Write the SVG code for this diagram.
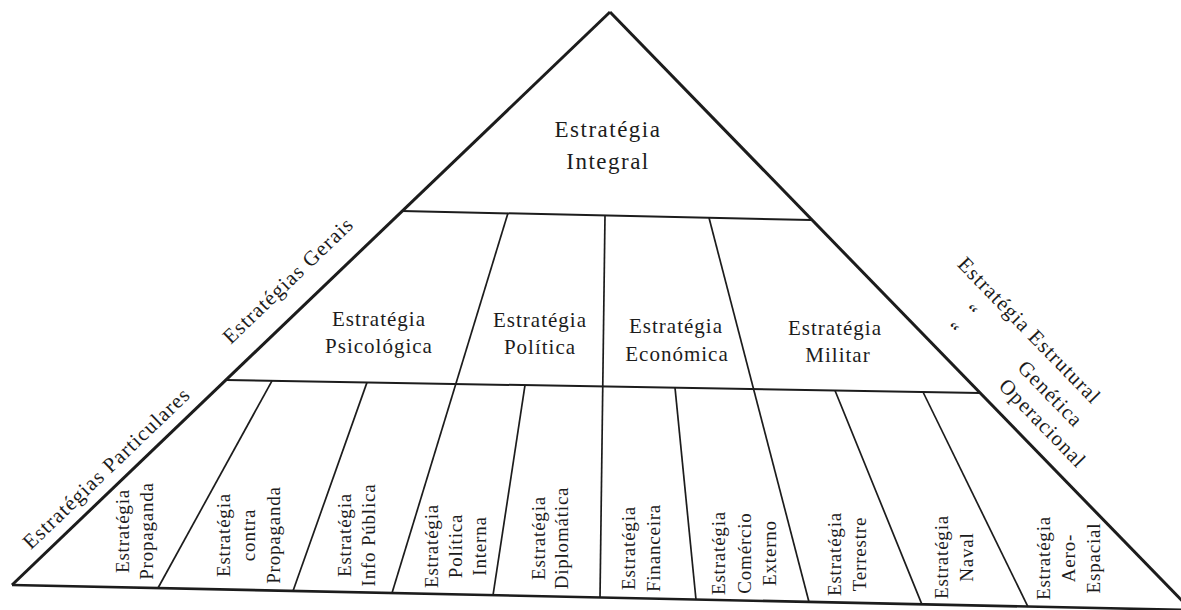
<svg xmlns="http://www.w3.org/2000/svg" width="1181" height="610" viewBox="0 0 1181 610">
<style>
  .edge{fill:none;stroke:#1c1c1c;stroke-width:3;stroke-linejoin:miter}
  .base{fill:none;stroke:#1c1c1c;stroke-width:2.6}
  .hline{fill:none;stroke:#1c1c1c;stroke-width:2}
  .div{fill:none;stroke:#1c1c1c;stroke-width:1.7}
  text{font-family:"Liberation Serif","Times New Roman",serif;fill:#1c1c1c}
  .top{font-size:23px;letter-spacing:1.5px;text-anchor:middle}
  .mid{font-size:21px;letter-spacing:1px;text-anchor:middle}
  .low{font-size:19px;letter-spacing:0.8px;text-anchor:middle}
  .side{font-size:21px;letter-spacing:1.1px}
</style>
<rect x="0" y="0" width="1181" height="610" fill="#ffffff"/>
<g id="connectors">
  <line class="edge" x1="12" y1="585" x2="610" y2="12"/>
  <line class="edge" x1="610" y1="12" x2="1191" y2="610"/>
  <line class="base" x1="12" y1="585" x2="1191" y2="610"/>
  <line class="hline" x1="402" y1="211" x2="811" y2="220"/>
  <line class="hline" x1="226" y1="380" x2="980" y2="393"/>
  <line class="div" x1="508" y1="213" x2="392" y2="593"/>
  <line class="div" x1="605" y1="215.5" x2="600" y2="597.6"/>
  <line class="div" x1="709" y1="217.8" x2="809" y2="602"/>
  <line class="div" x1="272" y1="380.8" x2="158" y2="588"/>
  <line class="div" x1="367" y1="382.4" x2="293" y2="591"/>
  <line class="div" x1="525" y1="385.2" x2="493" y2="595.3"/>
  <line class="div" x1="675" y1="387.7" x2="696" y2="599.7"/>
  <line class="div" x1="835" y1="390.5" x2="922" y2="604.6"/>
  <line class="div" x1="923" y1="392" x2="1028" y2="606.8"/>
</g>
<g id="integral">
  <text class="top" x="608" y="137">Estratégia</text>
  <text class="top" x="608" y="169">Integral</text>
</g>
<g id="psicologica">
  <text class="mid" x="379" y="326">Estratégia</text>
  <text class="mid" x="379" y="353">Psicológica</text>
</g>
<g id="politica">
  <text class="mid" x="540" y="327">Estratégia</text>
  <text class="mid" x="540" y="354">Política</text>
</g>
<g id="economica">
  <text class="mid" x="676" y="333">Estratégia</text>
  <text class="mid" x="677" y="361">Económica</text>
</g>
<g id="militar">
  <text class="mid" x="835" y="335">Estratégia</text>
  <text class="mid" x="838" y="362">Militar</text>
</g>
<g id="propaganda">
  <text class="low" transform="translate(129,531) rotate(-90)"><tspan x="0" y="0">Estratégia</tspan><tspan x="0" dy="24">Propaganda</tspan></text>
</g>
<g id="contra-propaganda">
  <text class="low" transform="translate(230,535) rotate(-90)"><tspan x="0" y="0">Estratégia</tspan><tspan x="0" dy="25">contra</tspan><tspan x="0" dy="25">Propaganda</tspan></text>
</g>
<g id="info-publica">
  <text class="low" transform="translate(351,535) rotate(-90)"><tspan x="0" y="0">Estratégia</tspan><tspan x="0" dy="24">Info Pública</tspan></text>
</g>
<g id="politica-interna">
  <text class="low" transform="translate(438,546) rotate(-90)"><tspan x="0" y="0">Estratégia</tspan><tspan x="0" dy="24">Política</tspan><tspan x="0" dy="24">Interna</tspan></text>
</g>
<g id="diplomatica">
  <text class="low" transform="translate(545,538) rotate(-90)"><tspan x="0" y="0">Estratégia</tspan><tspan x="0" dy="23">Diplomática</tspan></text>
</g>
<g id="financeira">
  <text class="low" transform="translate(635,548) rotate(-90)"><tspan x="0" y="0">Estratégia</tspan><tspan x="0" dy="25">Financeira</tspan></text>
</g>
<g id="comercio-externo">
  <text class="low" transform="translate(725,553) rotate(-90)"><tspan x="0" y="0">Estratégia</tspan><tspan x="0" dy="25.5">Comércio</tspan><tspan x="0" dy="25.5">Externo</tspan></text>
</g>
<g id="terrestre">
  <text class="low" transform="translate(841,554) rotate(-90)"><tspan x="0" y="0">Estratégia</tspan><tspan x="0" dy="25">Terrestre</tspan></text>
</g>
<g id="naval">
  <text class="low" transform="translate(948,557) rotate(-90)"><tspan x="0" y="0">Estratégia</tspan><tspan x="0" dy="25">Naval</tspan></text>
</g>
<g id="aero-espacial">
  <text class="low" transform="translate(1050,558) rotate(-90)"><tspan x="0" y="0">Estratégia</tspan><tspan x="0" dy="25">Aero-</tspan><tspan x="0" dy="25">Espacial</tspan></text>
</g>
<g id="label-particulares">
  <text class="side" text-anchor="middle" transform="translate(111.3,473.2) rotate(-43.8)">Estratégias Particulares</text>
</g>
<g id="label-gerais">
  <text class="side" text-anchor="middle" transform="translate(292.8,285.4) rotate(-43.8)">Estratégias Gerais</text>
</g>
<g id="label-direita">
  <text class="side" transform="translate(956.4,265.3) rotate(45.8)">Estratégia Estrutural</text>
  <text class="side" transform="translate(1016.4,368.7) rotate(45.8)">Genética</text>
  <text class="side" transform="translate(997.7,386.9) rotate(45.8)">Operacional</text>
  <text class="side" text-anchor="middle" font-size="18" transform="translate(965.5,316.4) rotate(45.8)">“</text>
  <text class="side" text-anchor="middle" font-size="18" transform="translate(946.8,334.6) rotate(45.8)">“</text>
</g>
</svg>
